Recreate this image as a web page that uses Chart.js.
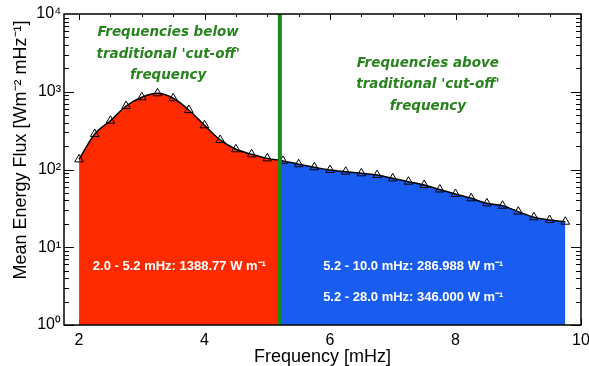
<!DOCTYPE html>
<html>
<head>
<meta charset="utf-8">
<script src="https://cdn.jsdelivr.net/npm/chart.js@4.4.1/dist/chart.umd.min.js"></script>
<style>
  body { margin: 0; background: #fff; }
  #wrap { width: 589px; height: 366px; }
</style>
</head>
<body>
<div id="wrap"><canvas id="fluxChart" width="589" height="366"></canvas></div>
<script>
// frequency bins (mHz) and mean energy flux (W m^-2 mHz^-1)
const freqs = [2.0, 2.25, 2.5, 2.75, 3.0, 3.25, 3.5, 3.75, 4.0, 4.25, 4.5, 4.75,
  5.0, 5.25, 5.5, 5.75, 6.0, 6.25, 6.5, 6.75, 7.0, 7.25, 7.5, 7.75,
  8.0, 8.25, 8.5, 8.75, 9.0, 9.25, 9.5, 9.75];
const meanFlux = [135, 286, 424, 656, 849, 955, 824, 582, 370, 240, 182, 157,
  139, 129, 117, 107, 98.6, 93.7, 89.4, 85, 77, 69.7, 63.2, 55.3,
  48.4, 42.6, 36.7, 34.2, 28.7, 24.3, 22.4, 21.3];

const xTickValues = [2, 4, 6, 8, 10];
const yTickValues = [1, 10, 100, 1000, 10000];
const yTickLabels = ['10\u2070', '10\u00b9', '10\u00b2', '10\u00b3', '10\u2074'];

const cutoffFreq = 5.2;
const belowText = ['Frequencies below', "traditional 'cut-off'", 'frequency'];
const aboveText = ['Frequencies above', "traditional 'cut-off'", 'frequency'];
const bandTotals = ['2.0 - 5.2 mHz: 1388.77 W m\u207b\u00b9',
  '5.2 - 10.0 mHz: 286.988 W m\u207b\u00b9',
  '5.2 - 28.0 mHz: 346.000 W m\u207b\u00b9'];

const RED = 'rgb(255, 42, 0)';
const BLUE = 'rgb(24, 92, 240)';
const GREEN = 'rgb(30, 135, 30)';
const LABEL_GREEN = 'rgb(40, 130, 30)';
const SANS = '"Liberation Sans", Arial, sans-serif';

// red below the cut-off, blue above it
function splitFill(context) {
  const chart = context.chart;
  const area = chart.chartArea;
  if (!area) return RED;
  const xc = chart.scales.x.getPixelForValue(cutoffFreq);
  const f = Math.min(1, Math.max(0, (xc - area.left) / (area.right - area.left)));
  const g = chart.ctx.createLinearGradient(area.left, 0, area.right, 0);
  g.addColorStop(0, RED);
  g.addColorStop(f, RED);
  g.addColorStop(f, BLUE);
  g.addColorStop(1, BLUE);
  return g;
}

const framePlugin = {
  id: 'frame',
  beforeDatasetsDraw(chart) {
    const { ctx, chartArea: a, scales: { x, y } } = chart;
    ctx.save();
    ctx.strokeStyle = '#000';
    ctx.lineWidth = 1;
    ctx.beginPath();
    // inward y ticks, left and right
    for (let e = 0; e < 4; e++) {
      for (let m = 1; m <= 9; m++) {
        const py = Math.round(y.getPixelForValue(m * Math.pow(10, e))) + 0.5;
        const len = m === 1 ? 10 : 5;
        ctx.moveTo(a.left, py); ctx.lineTo(a.left + len, py);
        ctx.moveTo(a.right, py); ctx.lineTo(a.right - len, py);
      }
    }
    // inward x ticks, top and bottom
    for (let v = 2; v <= 10; v += 0.5) {
      const px = Math.round(x.getPixelForValue(v)) + 0.5;
      const len = v % 2 === 0 ? 6 : 3;
      ctx.moveTo(px, a.top); ctx.lineTo(px, a.top + len);
      ctx.moveTo(px, a.bottom); ctx.lineTo(px, a.bottom - len);
    }
    ctx.stroke();
    ctx.restore();
  },
  afterDatasetsDraw(chart) {
    const { ctx, chartArea: a, scales: { x, y } } = chart;
    ctx.save();

    // cut-off line
    const xc = x.getPixelForValue(cutoffFreq);
    ctx.strokeStyle = GREEN;
    ctx.lineWidth = 4;
    ctx.beginPath();
    ctx.moveTo(xc, a.top);
    ctx.lineTo(xc, a.bottom);
    ctx.stroke();

    // axis box
    ctx.strokeStyle = '#000';
    ctx.lineWidth = 1.5;
    ctx.strokeRect(a.left, a.top, a.right - a.left, a.bottom - a.top);

    // green region notes
    ctx.fillStyle = LABEL_GREEN;
    ctx.font = 'italic bold 13.5px "DejaVu Sans", Verdana, sans-serif';
    ctx.textAlign = 'center';
    ctx.textBaseline = 'middle';
    const lx = x.getPixelForValue(3.42);
    const ly = y.getPixelForValue(5700);
    belowText.forEach((t, i) => ctx.fillText(t, lx, ly + i * 21.5));
    const rx = x.getPixelForValue(7.56);
    const ry = y.getPixelForValue(2340);
    aboveText.forEach((t, i) => ctx.fillText(t, rx, ry + i * 21.5));

    // band totals
    ctx.fillStyle = '#fff';
    ctx.font = 'bold 13px ' + SANS;
    ctx.textAlign = 'left';
    ctx.fillText(bandTotals[0], x.getPixelForValue(2.22), y.getPixelForValue(5.74));
    ctx.fillText(bandTotals[1], x.getPixelForValue(5.89), y.getPixelForValue(5.74));
    ctx.fillText(bandTotals[2], x.getPixelForValue(5.89), y.getPixelForValue(2.29));

    // axis titles
    ctx.fillStyle = '#000';
    ctx.font = '18px ' + SANS;
    ctx.textAlign = 'center';
    ctx.fillText('Frequency [mHz]', (a.left + a.right) / 2, 357);
    ctx.translate(21, 150);
    ctx.rotate(-Math.PI / 2);
    ctx.fillText('Mean Energy Flux [Wm\u207b\u00b2 mHz\u207b\u00b9]', 0, 0);
    ctx.restore();
  }
};

const ctx = document.getElementById('fluxChart').getContext('2d');
new Chart(ctx, {
  type: 'line',
  data: {
    datasets: [{
      data: freqs.map((f, i) => ({ x: f, y: meanFlux[i] })),
      borderColor: '#000',
      borderWidth: 1.5,
      cubicInterpolationMode: 'monotone',
      fill: 'start',
      backgroundColor: splitFill,
      pointStyle: 'triangle',
      pointRadius: 5,
      pointBorderWidth: 1,
      pointBorderColor: '#000',
      pointBackgroundColor: 'rgba(0,0,0,0)',
    }],
  },
  options: {
    responsive: false,
    animation: false,
    layout: { padding: { left: 0, right: 8, top: 14, bottom: 0 } },
    plugins: {
      legend: { display: false },
      tooltip: { enabled: false },
    },
    scales: {
      x: {
        type: 'linear',
        min: 1.76,
        max: 10,
        grid: { display: false, drawTicks: false },
        border: { display: false },
        afterBuildTicks(scale) {
          scale.ticks = xTickValues.map((v) => ({ value: v }));
        },
        afterFit(scale) {
          scale.height = 41;
          scale.paddingRight = 0;
          scale.paddingLeft = 0;
        },
        ticks: {
          color: '#000',
          padding: 6,
          font: { family: SANS, size: 16 },
          callback: (v) => String(v),
        },
      },
      y: {
        type: 'logarithmic',
        min: 1,
        max: 10000,
        grid: { display: false, drawTicks: false },
        border: { display: false },
        afterBuildTicks(scale) {
          scale.ticks = yTickValues.map((v) => ({ value: v }));
        },
        afterFit(scale) {
          scale.width = 64;
          scale.paddingTop = 0;
          scale.paddingBottom = 0;
        },
        ticks: {
          color: '#000',
          padding: 3,
          font: { family: SANS, size: 16 },
          callback: (v, i) => yTickLabels[i],
        },
      },
    },
  },
  plugins: [framePlugin],
});
</script>
</body>
</html>
